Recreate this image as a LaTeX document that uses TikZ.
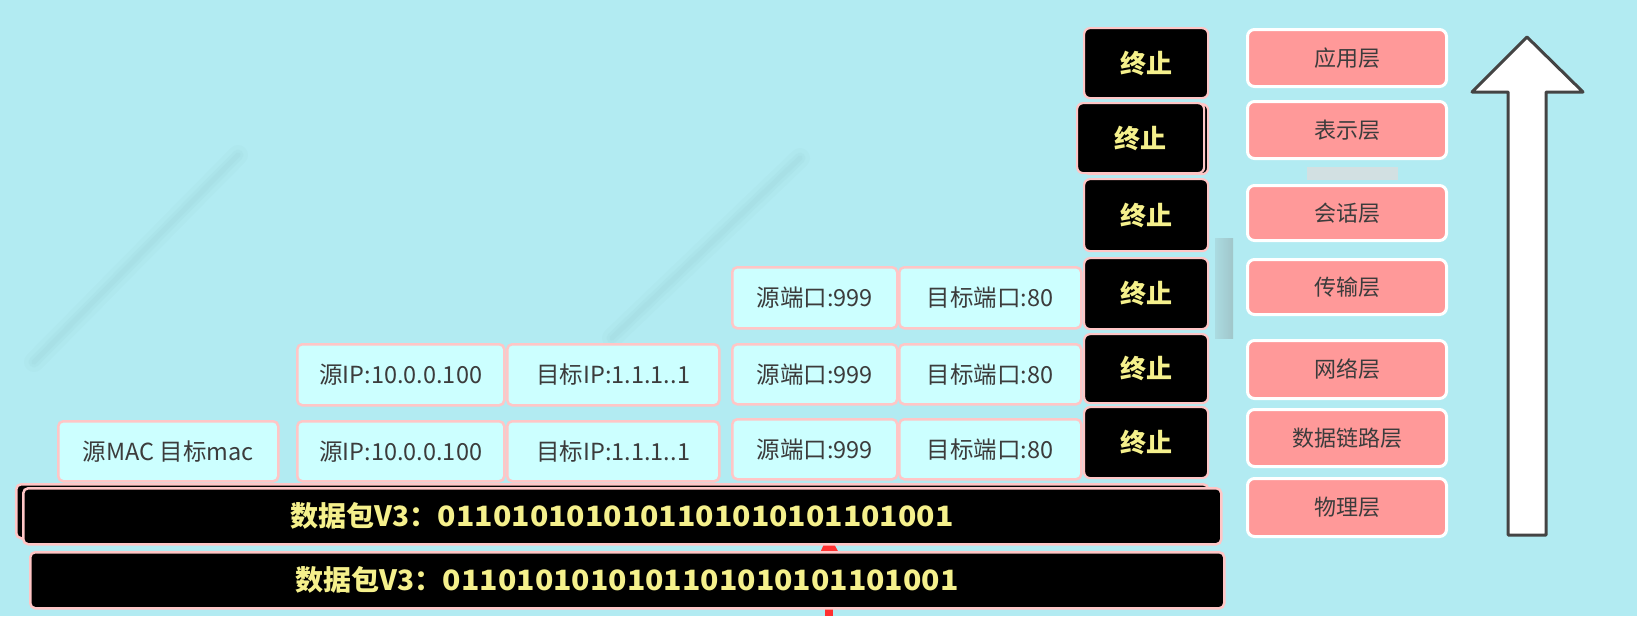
\documentclass[tikz,border=0pt]{standalone}
\usepackage{fontspec}
\usepackage{graphicx}
\newfontfamily\cjk{Noto Sans CJK SC}
\usetikzlibrary{arrows.meta}
\definecolor{bgc}{HTML}{B2EBF2}
\definecolor{cellfill}{HTML}{CCFFFF}
\definecolor{pinkline}{HTML}{FFC6C6}
\definecolor{layerfill}{HTML}{FF9999}
\definecolor{celltext}{HTML}{3C3C3C}
\definecolor{stoptext}{HTML}{F5F08C}
\definecolor{arrowline}{HTML}{444444}
\definecolor{redmark}{HTML}{FF3030}
\definecolor{streak}{HTML}{9CD3D9}
\begin{document}
\begin{tikzpicture}[x=1pt,y=-1pt,
  cell/.style={draw=pinkline, line width=2.5pt, fill=cellfill, rounded corners=5pt,
    anchor=north west, inner sep=0pt, text=celltext,
    font=\cjk\fontsize{23.5}{28}\selectfont},
  stopbox/.style={draw=pinkline, line width=2.2pt, fill=black, rounded corners=6pt,
    anchor=north west, inner sep=0pt, text=stoptext,
    font=\cjk\bfseries\fontsize{26}{30}\selectfont},
  layerbox/.style={draw=white, line width=3pt, fill=layerfill, rounded corners=7pt,
    anchor=north west, inner sep=0pt, text=celltext,
    font=\cjk\fontsize{22}{26}\selectfont},
  packet/.style={draw=pinkline, line width=2.5pt, fill=black, rounded corners=5pt,
    anchor=north west, inner sep=0pt, text=stoptext,
    font=\cjk\bfseries\fontsize{28}{32}\selectfont},
  redline/.style={draw=redmark, line width=8pt},
  streakwide/.style={draw=streak, line width=20pt, line cap=round, opacity=0.12},
  streakmid/.style={draw=streak, line width=11pt, line cap=round, opacity=0.18},
  streakthin/.style={draw=streak, line width=5pt, line cap=round, opacity=0.2}
]
\useasboundingbox (0,0) rectangle (1637,616);
\fill[bgc] (0,0) rectangle (1637,616);

% faint streaks
\foreach \s in {streakwide,streakmid,streakthin}{
  \draw[\s] (34,362) -- (238,155);
  \draw[\s] (612,338) -- (800,158);
}
% gray bars
\fill[color=bgc!55!gray!45] (1307,167) rectangle (1398,180);
\shade[left color=bgc!85!gray, right color=bgc!65!gray] (1215,238) rectangle (1233,338);

% red hidden arrow
\coordinate (rA) at (829,616);
\coordinate (rB) at (829,552);
\draw[redline] (rA) -- (rB);
\fill[redmark] (820,553) -- (824,544) -- (834,544) -- (839,553) -- cycle;

% stop boxes
\node[stopbox, minimum width=124pt, minimum height=70pt] (z1) at (1083,27) {终止};
\node[stopbox, minimum width=124pt, minimum height=70pt] (z2b) at (1083,103) {};
\node[stopbox, minimum width=127pt, minimum height=70pt] (z2) at (1076,102) {终止};
\node[stopbox, minimum width=124pt, minimum height=72pt] (z3) at (1083,178) {终止};
\node[stopbox, minimum width=124pt, minimum height=71pt] (z4) at (1083,257) {终止};
\node[stopbox, minimum width=124pt, minimum height=69pt] (z5) at (1083,333) {终止};
\node[stopbox, minimum width=124pt, minimum height=71pt] (z6) at (1083,406) {终止};

% layers
\node[layerbox, minimum width=199pt, minimum height=57pt] (l1) at (1246,28) {应用层};
\node[layerbox, minimum width=199pt, minimum height=57pt] (l2) at (1246,100) {表示层};
\node[layerbox, minimum width=199pt, minimum height=55pt] (l3) at (1246,184) {会话层};
\node[layerbox, minimum width=199pt, minimum height=55pt] (l4) at (1246,258) {传输层};
\node[layerbox, minimum width=199pt, minimum height=58pt] (l5) at (1246,339) {网络层};
\node[layerbox, minimum width=199pt, minimum height=57pt] (l6) at (1246,408) {数据链路层};
\node[layerbox, minimum width=199pt, minimum height=58pt] (l7) at (1246,477) {物理层};

% big arrow
\draw[arrowline, line width=3pt, fill=white, line join=round]
  (1527,37) -- (1583,92) -- (1546,92) -- (1546,535) -- (1508,535) -- (1508,92) -- (1472,92) -- cycle;

% transport row
\node[cell, minimum width=165pt, minimum height=61pt] (s4) at (731,266) {源端口:999};
\node[cell, minimum width=182pt, minimum height=61pt] (d4) at (898,266) {目标端口:80};
% network row
\node[cell, minimum width=207pt, minimum height=61pt] (ip5) at (296,343) {源IP:10.0.0.100};
\node[cell, minimum width=212pt, minimum height=61pt] (dip5) at (506,343) {目标IP:1.1.1..1};
\node[cell, minimum width=165pt, minimum height=60pt] (s5) at (731,343) {源端口:999};
\node[cell, minimum width=182pt, minimum height=60pt] (d5) at (898,343) {目标端口:80};
% data link row
\node[cell, minimum width=220pt, minimum height=60pt] (mac) at (57,420) {源MAC 目标mac};
\node[cell, minimum width=207pt, minimum height=60pt] (ip6) at (296,420) {源IP:10.0.0.100};
\node[cell, minimum width=212pt, minimum height=60pt] (dip6) at (506,420) {目标IP:1.1.1..1};
\node[cell, minimum width=165pt, minimum height=60pt] (s6) at (731,418) {源端口:999};
\node[cell, minimum width=182pt, minimum height=60pt] (d6) at (898,418) {目标端口:80};

% packets
\node[packet, minimum width=1192pt, minimum height=54pt] (pb) at (15,483) {};
\node[packet, minimum width=1198pt, minimum height=56pt] (p1) at (22,487)
  {数据包V3：\scalebox{1.08}[1]{0110101010101101010101101001}};
\node[packet, minimum width=1194pt, minimum height=56pt] (p2) at (29,551)
  {数据包V3：\scalebox{1.08}[1]{0110101010101101010101101001}};
\end{tikzpicture}
\end{document}
